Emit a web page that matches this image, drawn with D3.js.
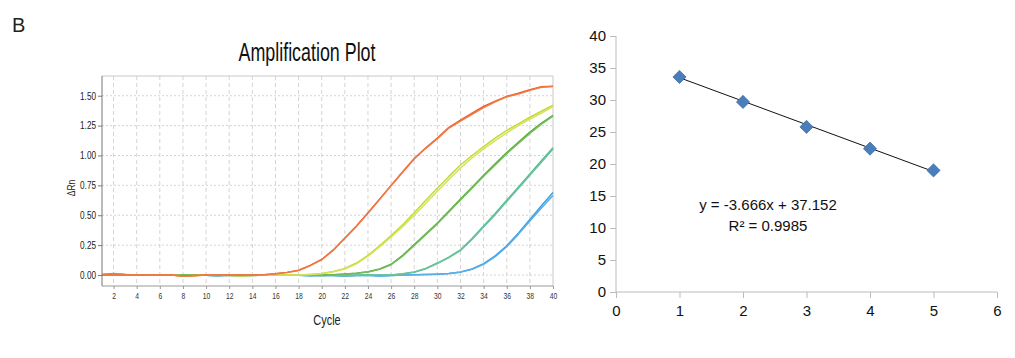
<!DOCTYPE html>
<html><head><meta charset="utf-8">
<script src="https://cdn.jsdelivr.net/npm/d3@7/dist/d3.min.js"></script>
<style>body{margin:0;background:#fff;} svg{display:block;}</style>
</head><body>
<svg id="c" width="1015" height="358"></svg>
<script>
// ---------- DATA: amplification plot ----------
const cycles = d3.range(1, 41);
const orangeA = [0,0,0,0,0,0,0,-0.008,-0.005,0,0,0,0,0,0.003,0.01,0.022,0.04,0.08,0.13,0.21,0.31,0.41,0.52,0.635,0.75,0.865,0.975,1.065,1.145,1.235,1.295,1.355,1.41,1.455,1.495,1.52,1.55,1.575,1.58];
const orangeB = [0,0,0,0,0,0,0,-0.01,-0.006,0,0,0,0,0,0.003,0.01,0.021,0.038,0.078,0.128,0.207,0.307,0.407,0.517,0.632,0.747,0.86,0.97,1.06,1.14,1.23,1.288,1.345,1.4,1.448,1.49,1.515,1.545,1.57,1.578];
const yellowA = [0,0.003,0,0,0,0,0,-0.008,-0.005,0,0,0,-0.005,-0.003,0,0,0,0,0.005,0.012,0.03,0.055,0.1,0.165,0.245,0.33,0.42,0.52,0.625,0.725,0.825,0.92,1.0,1.075,1.145,1.21,1.265,1.32,1.37,1.42];
const yellowB = [0,0.003,0,0,0,0,0,-0.006,-0.004,0,0,0,-0.004,-0.003,0,0,0,0,0.004,0.01,0.027,0.05,0.093,0.157,0.235,0.318,0.405,0.5,0.6,0.7,0.8,0.895,0.98,1.055,1.125,1.19,1.25,1.305,1.355,1.41];
const greenA = [0.005,0.012,0.004,0,0,0,0,0,-0.003,0,0,-0.004,-0.006,-0.004,0,0,0,0,0,0,0.003,0.008,0.015,0.028,0.05,0.09,0.165,0.255,0.345,0.435,0.535,0.635,0.735,0.835,0.93,1.025,1.11,1.195,1.27,1.335];
const greenB = [0.005,0.01,0.004,0,0,0,0,0,-0.003,0,0,-0.004,-0.005,-0.004,0,0,0,0,0,0,0.003,0.007,0.014,0.026,0.047,0.086,0.158,0.248,0.338,0.428,0.527,0.627,0.727,0.826,0.92,1.015,1.1,1.185,1.262,1.33];
const tealA = [0,0.004,0,0,0,0,0,0,0,-0.003,-0.004,0,0,0,0,0,0,0,-0.003,-0.004,0,-0.004,-0.003,0,0,0,0.01,0.025,0.055,0.1,0.15,0.21,0.305,0.41,0.515,0.625,0.735,0.845,0.955,1.065];
const tealB = [0,0.004,0,0,0,0,0,0,0,-0.003,-0.004,0,0,0,0,0,0,0,-0.003,-0.004,0,-0.004,-0.003,0,0,0,0.009,0.023,0.052,0.095,0.145,0.205,0.298,0.402,0.505,0.615,0.724,0.834,0.944,1.055];
const blueA = [0,0,0,0,0,0,0,0,0,-0.003,-0.006,-0.003,0,0,0,0,0,-0.003,-0.006,-0.003,-0.004,-0.008,-0.004,-0.002,-0.008,-0.004,0,0.002,0.004,0.007,0.012,0.025,0.05,0.095,0.16,0.245,0.35,0.465,0.58,0.69];
const blueB = [0,0,0,0,0,0,0,0,0,-0.003,-0.006,-0.003,0,0,0,0,0,-0.003,-0.006,-0.003,-0.004,-0.008,-0.004,-0.002,-0.008,-0.004,0,0.002,0.004,0.007,0.012,0.024,0.048,0.09,0.153,0.236,0.34,0.452,0.56,0.665];
const ampYTicks = [0, 0.25, 0.5, 0.75, 1.0, 1.25, 1.5];
const ampXTicks = d3.range(2, 41, 2);

// ---------- DATA: standard curve ----------
const stdX = [1, 2, 3, 4, 5];
const stdY = [33.6, 29.7, 25.8, 22.4, 19.0];
const slope = -3.666, intercept = 37.152, r2 = 0.9985;
const stdXTicks = [0, 1, 2, 3, 4, 5, 6];
const stdYTicks = [0, 5, 10, 15, 20, 25, 30, 35, 40];

const svg = d3.select("#c");
const narrow = "'Liberation Sans Narrow','Arial Narrow','Liberation Sans',Arial,sans-serif";
const sans = "'Liberation Sans',Arial,sans-serif";

// compress text horizontally to mimic a condensed face
function condense(sel, k) {
  sel.each(function () {
    const w = this.getComputedTextLength();
    d3.select(this).attr("textLength", w * k).attr("lengthAdjust", "spacingAndGlyphs");
  });
}

// Panel label
svg.append("text").attr("x", 12).attr("y", 32).attr("font-family", sans).attr("font-size", 20).attr("fill", "#222").text("B");

// ---------- Left: amplification plot ----------
const L = {l: 102, r: 553, t: 76, b: 286};
const ax = d3.scaleLinear().domain([1, 40]).range([L.l, L.r]);
const ay = d3.scaleLinear().domain([-0.092, 1.665]).range([L.b, L.t]);

const g = svg.append("g");
// grid
g.selectAll(".vg").data(ampXTicks.filter(d => d < 40)).join("line")
  .attr("x1", d => ax(d)).attr("x2", d => ax(d)).attr("y1", L.t).attr("y2", L.b)
  .attr("stroke", "#d4d4d4").attr("stroke-width", 1).attr("stroke-dasharray", "4,3");
g.selectAll(".hg").data(ampYTicks).join("line")
  .attr("x1", L.l).attr("x2", L.r).attr("y1", d => ay(d)).attr("y2", d => ay(d))
  .attr("stroke", "#d4d4d4").attr("stroke-width", 1).attr("stroke-dasharray", "2,2");
// frame
g.append("line").attr("x1", L.l).attr("x2", L.r).attr("y1", L.t).attr("y2", L.t).attr("stroke", "#c8c8c8");
g.append("line").attr("x1", L.r).attr("x2", L.r).attr("y1", L.t).attr("y2", L.b).attr("stroke", "#c8c8c8");

// curves
const line = d3.line().x((d, i) => ax(cycles[i])).y(d => ay(d)).curve(d3.curveLinear);
const series = [
  [blueA, "#3d9fe0"], [blueB, "#5aaee6"],
  [tealA, "#4fb98c"], [tealB, "#6cc49f"],
  [greenA, "#58ae3a"], [greenB, "#74bc5a"],
  [yellowA, "#c5d934"], [yellowB, "#d5e25a"],
  [orangeA, "#ea5f28"], [orangeB, "#ef7a48"]
];
g.selectAll(".crv").data(series).join("path")
  .attr("d", d => line(d[0])).attr("fill", "none")
  .attr("stroke", d => d[1]).attr("stroke-width", 1.5).attr("stroke-linejoin", "round");

// axes
const yAxL = d3.axisLeft(ay).tickValues(ampYTicks).tickFormat(d3.format(".2f")).tickSize(4).tickPadding(2);
const gyl = svg.append("g").attr("transform", `translate(${L.l},0)`).call(yAxL);
gyl.select(".domain").attr("stroke", "#777").attr("d", `M0,${L.t}V${L.b}`);
gyl.selectAll(".tick line").attr("stroke", "#777");
gyl.selectAll("text").attr("font-family", narrow).attr("font-size", 10.5).attr("fill", "#222").call(condense, 0.78);

const xAxL = d3.axisBottom(ax).tickValues(ampXTicks).tickSize(3).tickPadding(4);
const gxl = svg.append("g").attr("transform", `translate(0,${L.b})`).call(xAxL);
gxl.select(".domain").attr("stroke", "#999").attr("d", `M${L.l},0H${L.r}`);
gxl.selectAll(".tick line").attr("stroke", "#999");
gxl.selectAll("text").attr("font-family", narrow).attr("font-size", 9).attr("fill", "#333").call(condense, 0.75);

// titles
svg.append("text").attr("x", 307).attr("y", 61).attr("text-anchor", "middle")
  .attr("font-family", narrow).attr("font-size", 25).attr("fill", "#111")
  .attr("textLength", 137).attr("lengthAdjust", "spacingAndGlyphs").text("Amplification Plot");
svg.append("text").attr("x", 327).attr("y", 325).attr("text-anchor", "middle")
  .attr("font-family", narrow).attr("font-size", 14).attr("fill", "#222").text("Cycle").call(condense, 0.78);
svg.append("text").attr("transform", "translate(75,188) rotate(-90)").attr("text-anchor", "middle")
  .attr("font-family", narrow).attr("font-size", 10).attr("fill", "#222").text("ΔRn").call(condense, 0.85);

// ---------- Right: standard curve ----------
const R = {l: 616, r: 997, t: 36, b: 292};
const sx = d3.scaleLinear().domain([0, 6]).range([R.l, R.r]);
const sy = d3.scaleLinear().domain([0, 40]).range([R.b, R.t]);

const yAxR = d3.axisLeft(sy).tickValues(stdYTicks).tickFormat(d3.format("d")).tickSize(6).tickPadding(4);
const gyr = svg.append("g").attr("transform", `translate(${R.l},0)`).call(yAxR);
gyr.select(".domain").attr("stroke", "#bbb").attr("d", `M0,${R.t}V${R.b}`);
gyr.selectAll(".tick line").attr("stroke", "#bbb");
gyr.selectAll("text").attr("font-family", sans).attr("font-size", 15).attr("fill", "#111");

const xAxR = d3.axisBottom(sx).tickValues(stdXTicks).tickFormat(d3.format("d")).tickSize(6).tickPadding(7);
const gxr = svg.append("g").attr("transform", `translate(0,${R.b})`).call(xAxR);
gxr.select(".domain").attr("stroke", "#bbb").attr("d", `M${R.l},0H${R.r}`);
gxr.selectAll(".tick line").attr("stroke", "#bbb");
gxr.selectAll("text").attr("font-family", sans).attr("font-size", 15).attr("fill", "#111");

// trendline
const x0 = d3.min(stdX), x1 = d3.max(stdX);
svg.append("line").attr("x1", sx(x0)).attr("y1", sy(slope * x0 + intercept))
  .attr("x2", sx(x1)).attr("y2", sy(slope * x1 + intercept))
  .attr("stroke", "#111").attr("stroke-width", 1);

// diamonds
svg.selectAll(".pt").data(stdX).join("path")
  .attr("transform", (d, i) => `translate(${sx(d)},${sy(stdY[i])})`)
  .attr("d", d3.symbol(d3.symbolDiamond2, 110)())
  .attr("fill", "#4a7ebb").attr("stroke", "#3f6fa8").attr("stroke-width", 0.8);

// equation
svg.append("text").attr("x", 768).attr("y", 210).attr("text-anchor", "middle")
  .attr("font-family", sans).attr("font-size", 15).attr("fill", "#111")
  .text(`y = ${slope}x + ${intercept}`);
svg.append("text").attr("x", 768).attr("y", 231).attr("text-anchor", "middle")
  .attr("font-family", sans).attr("font-size", 15).attr("fill", "#111")
  .text(`R² = ${r2}`);
</script>
</body></html>
